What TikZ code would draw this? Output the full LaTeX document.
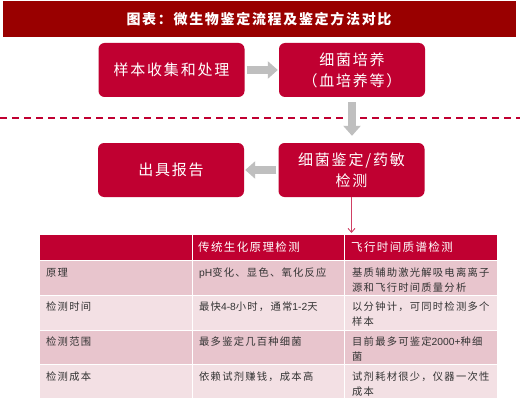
\documentclass[tikz,border=0pt]{standalone}
\usepackage{fontspec}
\setmainfont[LetterSpace=12]{Noto Sans CJK SC}
\newfontfamily\latinfont{Liberation Sans}
\newcommand{\lat}[1]{{\latinfont #1}}
\usetikzlibrary{arrows.meta}
\definecolor{titlered}{HTML}{990000}
\definecolor{boxred}{HTML}{C00031}
\definecolor{arrowgray}{HTML}{BFBFBF}
\definecolor{rowdark}{HTML}{E8C5CD}
\definecolor{rowlight}{HTML}{F3E0E4}
\definecolor{txt}{HTML}{333333}
\begin{document}
\begin{tikzpicture}[x=1pt,y=-1pt,
  flowbox/.style={fill=boxred, rounded corners=6pt, minimum width=146pt, minimum height=54pt,
    inner sep=0pt, text=white, align=center, font=\fontsize{15}{21}\selectfont},
  grayarrow/.style={draw=arrowgray, line width=8pt, -{Triangle[length=10pt,width=17pt]}},
  cellbox/.style={draw=white, line width=1pt, anchor=north west, inner sep=0pt, minimum height=#1},
  headtxt/.style={anchor=west, inner sep=0pt, text=white, font=\fontsize{11.5}{15}\selectfont},
  tabtxt/.style={anchor=north west, inner sep=0pt, text=txt, align=left, font=\fontsize{10.3}{15}\selectfont}
]
\useasboundingbox (0,0) rectangle (520,412);
\fill[white] (0,0) rectangle (520,412);

% title bar
\node[fill=titlered, minimum width=513pt, minimum height=36pt, inner sep=0pt,
  text=white, font=\bfseries\fontsize{14}{16}\selectfont] (title) at (259,19) {图表：微生物鉴定流程及鉴定方法对比};

% flow boxes
\node[flowbox] (b1) at (171.5,70) {样本收集和处理};
\node[flowbox] (b2) at (352,70) {细菌培养\\（血培养等）};
\node[flowbox] (b3) at (351.5,170) {细菌鉴定/药敏\\检测};
\node[flowbox] (b4) at (171,170) {出具报告};

% dashed separator
\coordinate (dl) at (0,118);
\coordinate (dr) at (520,118);
\draw[boxred, line width=1.5pt, dash pattern=on 7pt off 5pt] (dl) -- (dr);

% gray arrows
\draw[grayarrow, shorten <=2pt, shorten >=1pt] (b1.east) -- (b2.west);
\draw[grayarrow, shorten <=5pt, shorten >=7pt] (b2.south) -- (b2.south |- b3.north);
\draw[grayarrow, shorten <=2pt, shorten >=1pt] (b3.west) -- (b4.east);

% table header
\node[cellbox=26pt, fill=boxred, minimum width=153pt] (h1) at (39,234) {};
\node[cellbox=26pt, fill=boxred, minimum width=152pt] (h2) at (192,234) {};
\node[cellbox=26pt, fill=boxred, minimum width=153pt] (h3) at (344,234) {};
\node[headtxt] (ht2) at (198,247) {传统生化原理检测};
\node[headtxt] (ht3) at (351,247) {飞行时间质谱检测};

% thin arrow
\draw[boxred!75, line width=0.9pt, -{Straight Barb[length=4pt,width=7pt]}, shorten >=1pt] (b3.south) -- (b3.south |- h3.north);

% rows
\node[cellbox=35pt, fill=rowdark, minimum width=153pt] (r1a) at (39,260) {};
\node[cellbox=35pt, fill=rowdark, minimum width=152pt] (r1b) at (192,260) {};
\node[cellbox=35pt, fill=rowdark, minimum width=153pt] (r1c) at (344,260) {};
\node[cellbox=35pt, fill=rowlight, minimum width=153pt] (r2a) at (39,295) {};
\node[cellbox=35pt, fill=rowlight, minimum width=152pt] (r2b) at (192,295) {};
\node[cellbox=35pt, fill=rowlight, minimum width=153pt] (r2c) at (344,295) {};
\node[cellbox=34pt, fill=rowdark, minimum width=153pt] (r3a) at (39,330) {};
\node[cellbox=34pt, fill=rowdark, minimum width=152pt] (r3b) at (192,330) {};
\node[cellbox=34pt, fill=rowdark, minimum width=153pt] (r3c) at (344,330) {};
\node[cellbox=34pt, fill=rowlight, minimum width=153pt] (r4a) at (39,364) {};
\node[cellbox=34pt, fill=rowlight, minimum width=152pt] (r4b) at (192,364) {};
\node[cellbox=34pt, fill=rowlight, minimum width=153pt] (r4c) at (344,364) {};

% row texts
\node[tabtxt] (t1a) at (46,268) {原理};
\node[tabtxt] (t1b) at (199,268) {\lat{pH}变化、显色、氧化反应};
\node[tabtxt] (t1c) at (352,268) {基质辅助激光解吸电离离子\\源和飞行时间质量分析};
\node[tabtxt] (t2a) at (46,302) {检测时间};
\node[tabtxt] (t2b) at (199,302) {最快\lat{4-8}小时，通常\lat{1-2}天};
\node[tabtxt] (t2c) at (352,302) {以分钟计，可同时检测多个\\样本};
\node[tabtxt] (t3a) at (46,337) {检测范围};
\node[tabtxt] (t3b) at (199,337) {最多鉴定几百种细菌};
\node[tabtxt] (t3c) at (352,337) {目前最多可鉴定\lat{2000+}种细\\菌};
\node[tabtxt] (t4a) at (46,372) {检测成本};
\node[tabtxt] (t4b) at (199,372) {依赖试剂赚钱，成本高};
\node[tabtxt] (t4c) at (352,372) {试剂耗材很少，仪器一次性\\成本};
\end{tikzpicture}
\end{document}
